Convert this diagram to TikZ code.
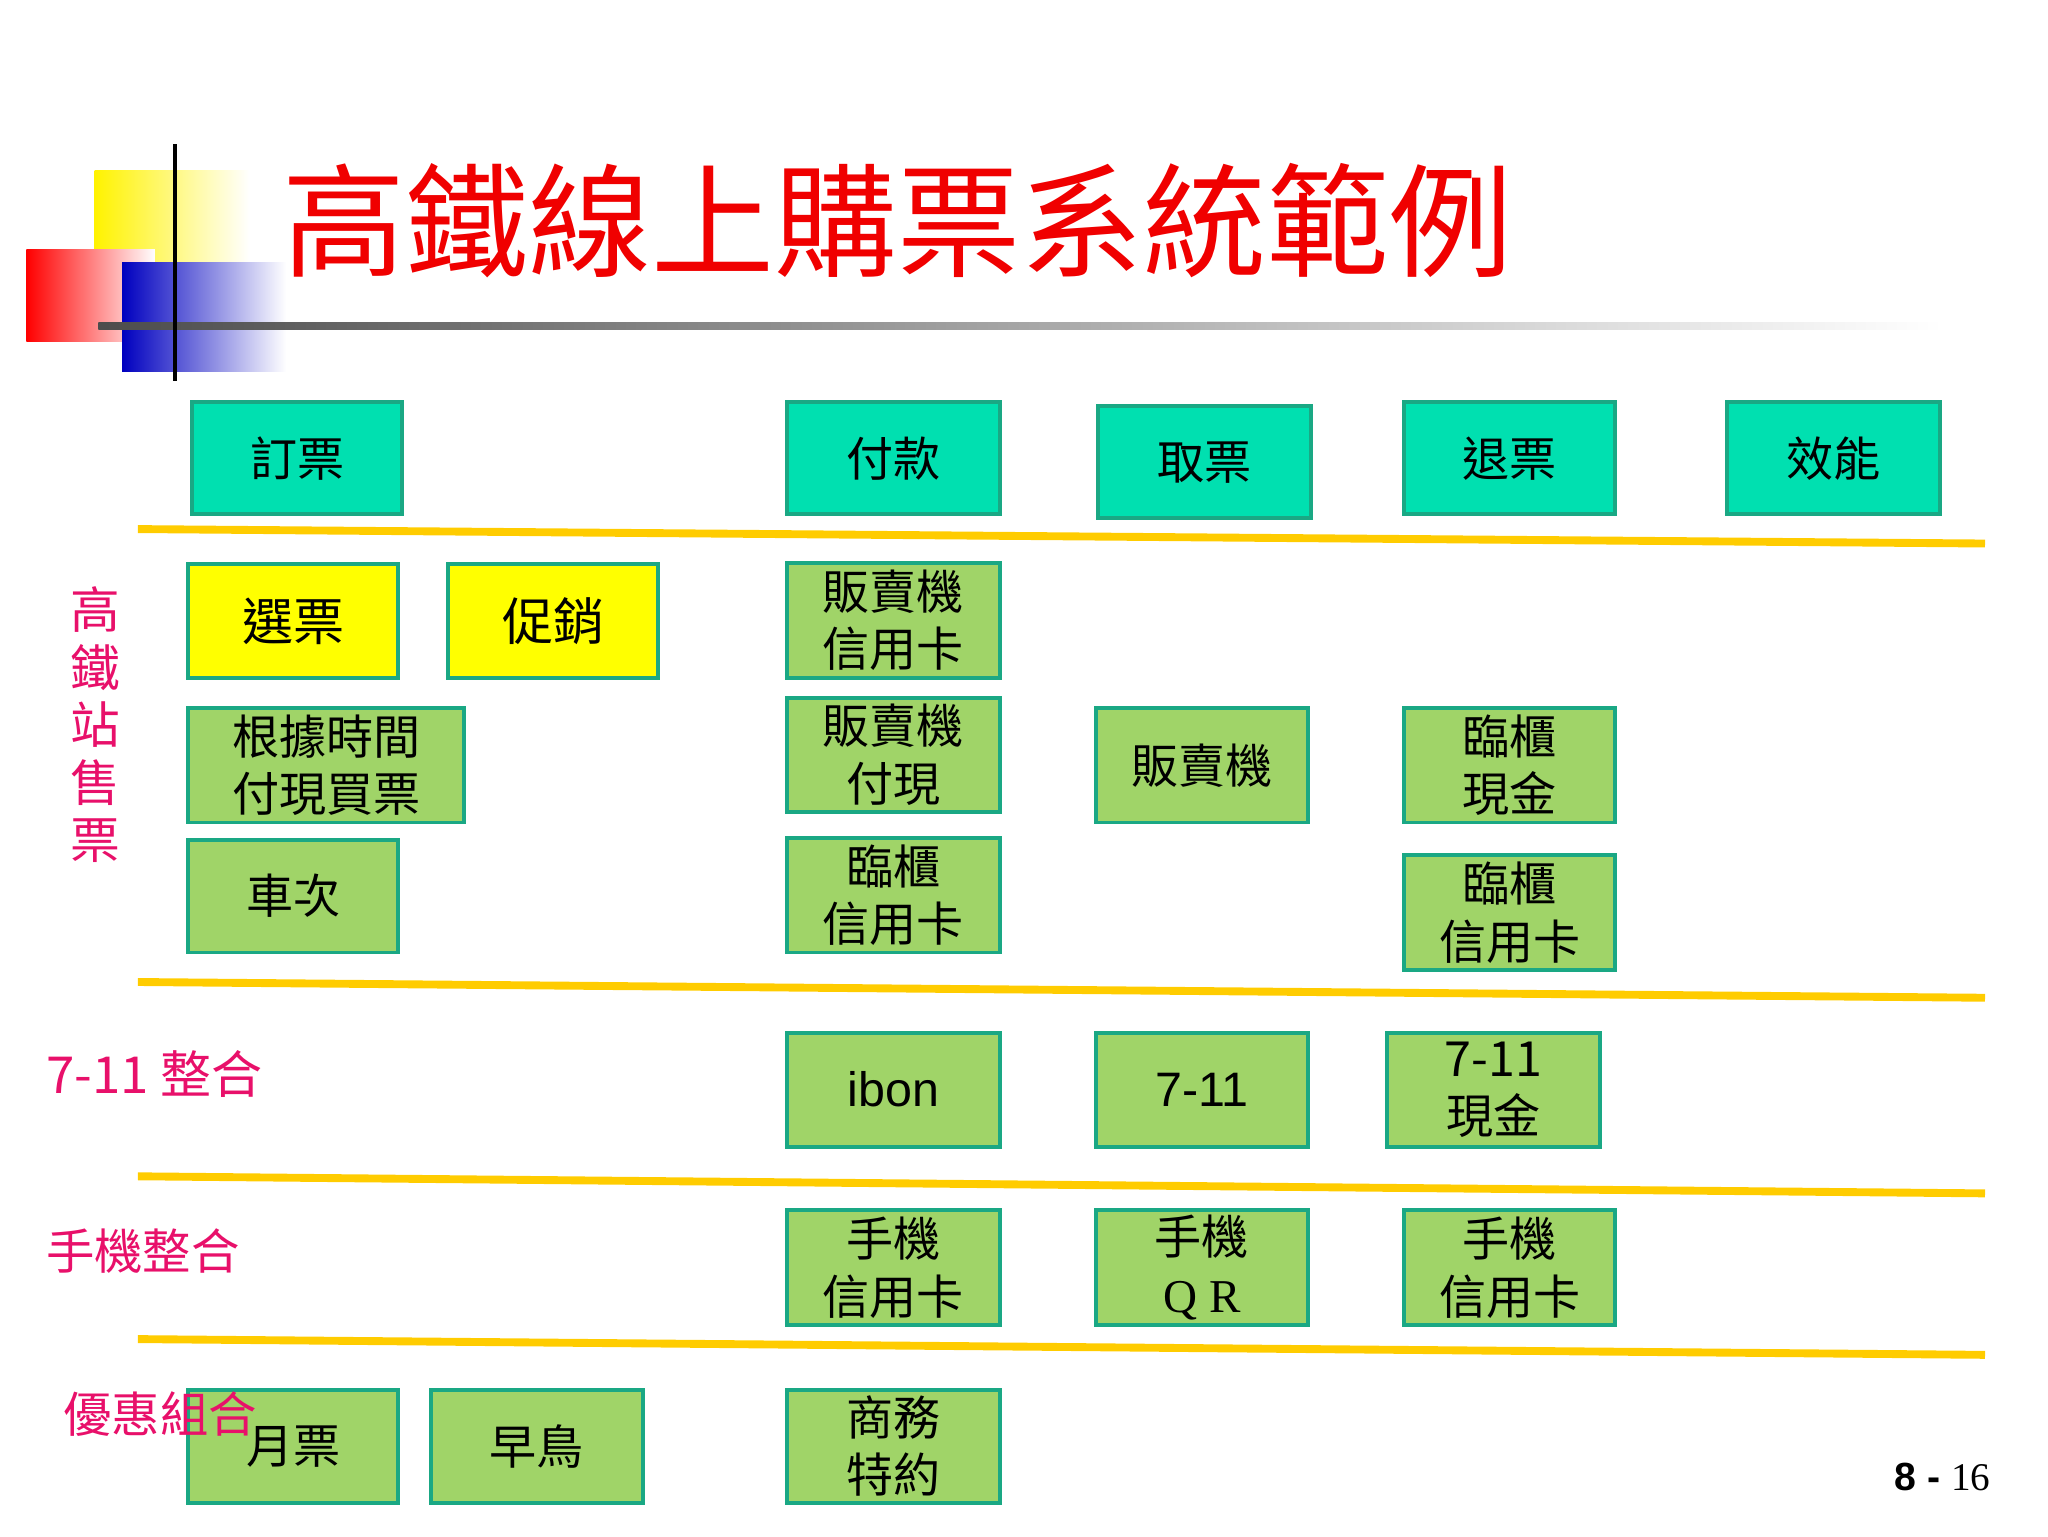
\documentclass[tikz,border=0pt]{standalone}
\usepackage{fontspec}
\setmainfont{Liberation Sans}
\newfontfamily\cjk{Noto Sans CJK TC}
\newfontfamily\serifnum{Liberation Serif}
\definecolor{hdr}{HTML}{00E0B0}
\definecolor{bord}{HTML}{1AA884}
\definecolor{grn}{HTML}{A0D468}
\definecolor{yel}{HTML}{FFFF00}
\definecolor{rule}{HTML}{FFCC00}
\definecolor{mag}{HTML}{E8106A}
\definecolor{ttl}{HTML}{F00000}
\tikzset{
 bx/.style={draw=bord,line width=3bp,inner sep=0pt,align=center,font=\cjk\fontsize{36}{44}\selectfont,anchor=north west},
 hb/.style={bx,fill=hdr},
 gb/.style={bx,fill=grn},
 yb/.style={bx,fill=yel,font=\cjk\fontsize{39}{44}\selectfont},
 lab/.style={text=mag,font=\cjk\fontsize{37}{40}\selectfont,anchor=west,inner sep=0pt},
 rl/.style={draw=rule,line width=6bp}
}
\begin{document}
\begin{tikzpicture}[x=1bp,y=-1bp]
\useasboundingbox (0,0) rectangle (1560,1170);
% logo
\shade[left color=yellow!90!orange,right color=white] (72,130) rectangle (190,245);
\shade[left color=red,right color=white] (20,190) rectangle (118,260);
\shade[left color=blue!75!black,right color=white] (93,200) rectangle (218,283);
\shade[left color=black!70,right color=white] (75,246) rectangle (1480,251);
\draw[line width=3bp] (133,110) -- (133,290);
\node[anchor=west,text=ttl,font=\cjk\fontsize{94}{96}\selectfont,inner sep=0pt] (title) at (215,168) {高鐵線上購票系統範例};
% rules
\coordinate (r1a) at (105,403); \coordinate (r1b) at (1512,414);
\coordinate (r2a) at (105,748); \coordinate (r2b) at (1512,760);
\coordinate (r3a) at (105,896); \coordinate (r3b) at (1512,909);
\coordinate (r4a) at (105,1020); \coordinate (r4b) at (1512,1032);
\draw[rl] (r1a)--(r1b); \draw[rl] (r2a)--(r2b); \draw[rl] (r3a)--(r3b); \draw[rl] (r4a)--(r4b);
% header boxes
\node[hb,minimum width=160bp,minimum height=85bp] (a1) at (145,305) {訂票};
\node[hb,minimum width=162bp,minimum height=85bp] (a2) at (598,305) {付款};
\node[hb,minimum width=162bp,minimum height=85bp] (a3) at (835,308) {取票};
\node[hb,minimum width=161bp,minimum height=85bp] (a4) at (1068,305) {退票};
\node[hb,minimum width=162bp,minimum height=85bp] (a5) at (1314,305) {效能};
% row 1
\node[yb,minimum width=160bp,minimum height=87bp] (b1) at (142,428) {選票};
\node[yb,minimum width=160bp,minimum height=87bp] (b2) at (340,428) {促銷};
\node[gb,minimum width=162bp,minimum height=88bp] (b3) at (598,427) {販賣機\\信用卡};
\node[gb,minimum width=210bp,minimum height=87bp] (b4) at (142,538) {根據時間\\付現買票};
\node[gb,minimum width=162bp,minimum height=87bp] (b5) at (598,530) {販賣機\\付現};
\node[gb,minimum width=162bp,minimum height=87bp] (b6) at (833,538) {販賣機};
\node[gb,minimum width=161bp,minimum height=87bp] (b7) at (1068,538) {臨櫃\\現金};
\node[gb,minimum width=160bp,minimum height=86bp] (b8) at (142,638) {車次};
\node[gb,minimum width=162bp,minimum height=87bp] (b9) at (598,637) {臨櫃\\信用卡};
\node[gb,minimum width=161bp,minimum height=87bp] (b10) at (1068,650) {臨櫃\\信用卡};
% row 2
\node[gb,minimum width=162bp,minimum height=87bp,font=\fontsize{37}{40}\selectfont] (c1) at (598,785) {ibon};
\node[gb,minimum width=162bp,minimum height=87bp,font=\fontsize{37}{40}\selectfont] (c2) at (833,785) {7-11};
\node[gb,minimum width=162bp,minimum height=87bp] (c3) at (1055,785) {{\fontsize{37}{40}\selectfont 7-11}\\現金};
% row 3
\node[gb,minimum width=162bp,minimum height=88bp] (d1) at (598,920) {手機\\信用卡};
\node[gb,minimum width=162bp,minimum height=88bp] (d2) at (833,920) {手機\\{\serifnum Q R}};
\node[gb,minimum width=161bp,minimum height=88bp] (d3) at (1068,920) {手機\\信用卡};
% row 4
\node[gb,minimum width=160bp,minimum height=86bp] (e1) at (142,1057) {月票};
\node[gb,minimum width=161bp,minimum height=86bp] (e2) at (327,1057) {早鳥};
\node[gb,minimum width=162bp,minimum height=86bp] (e3) at (598,1057) {商務\\特約};
% labels
\node[text=mag,font=\cjk\fontsize{38}{44}\selectfont,align=center,inner sep=0pt] (l1) at (73,552) {高\\鐵\\站\\售\\票};
\node[lab] (l2) at (35,818) {\fontsize{39}{40}\selectfont 7-11 整合};
\node[lab] (l3) at (35,953) {手機整合};
\node[lab] (l4) at (48,1077) {優惠組合};
\node[anchor=west,inner sep=0pt] (pg) at (1443,1125) {\fontsize{30}{32}\selectfont\bfseries 8 - {\serifnum\mdseries 16}};
\end{tikzpicture}
\end{document}
